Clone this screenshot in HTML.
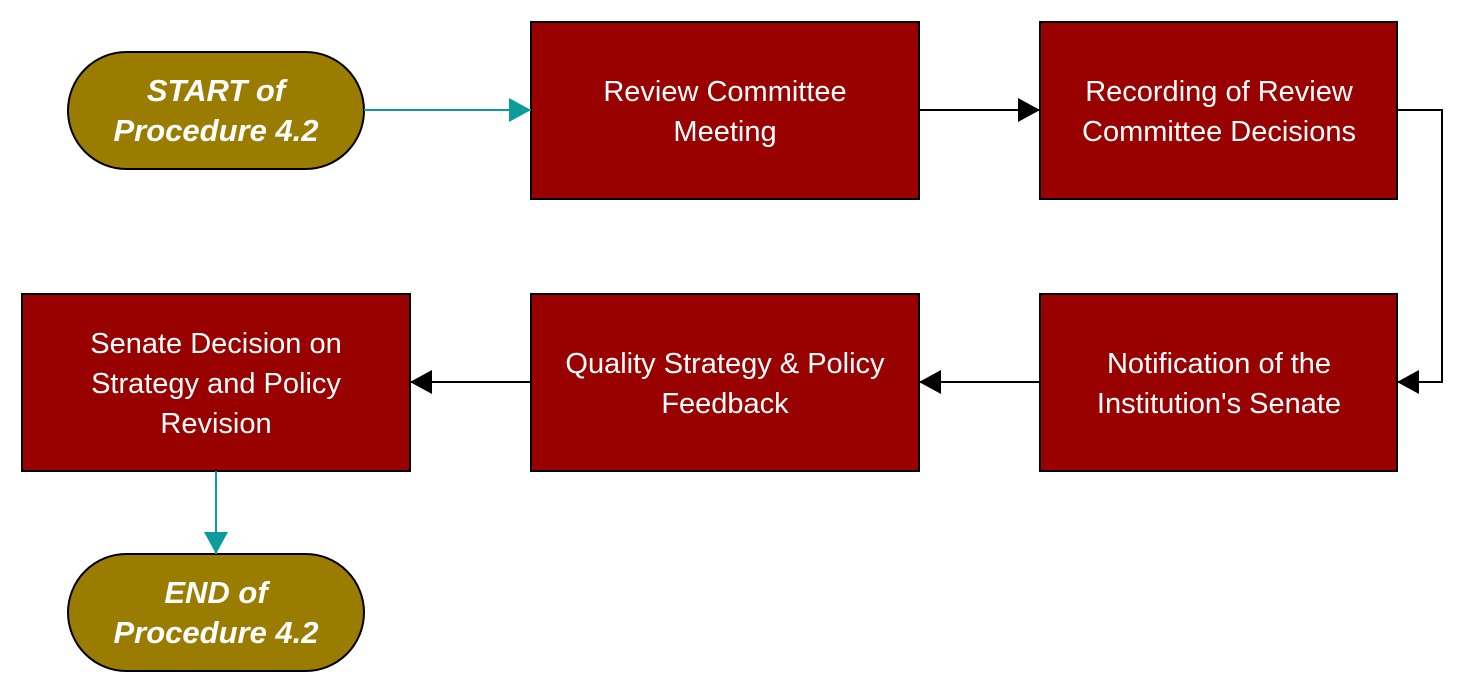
<!DOCTYPE html>
<html><head><meta charset="utf-8"><style>
html,body{margin:0;padding:0;background:#fff;}
svg{display:block;}
text{font-family:"Liberation Sans",sans-serif;fill:#fff;}
</style></head><body>
<svg width="1465" height="695" viewBox="0 0 1465 695" xmlns="http://www.w3.org/2000/svg">
<defs>
<marker id="ab" markerWidth="22" markerHeight="24" refX="22" refY="12" orient="auto" markerUnits="userSpaceOnUse" viewBox="0 0 22 24"><path d="M0,0 L22,12 L0,24 z" fill="#000"/></marker>
<marker id="at" markerWidth="22" markerHeight="24" refX="22" refY="12" orient="auto" markerUnits="userSpaceOnUse" viewBox="0 0 22 24"><path d="M0,0 L22,12 L0,24 z" fill="#0e9b9b"/></marker>
</defs>
<g stroke="#000" stroke-width="2" fill="#990000">
<rect x="531" y="22" width="388" height="177"/>
<rect x="1040" y="22" width="357" height="177"/>
<rect x="1040" y="294" width="357" height="177"/>
<rect x="531" y="294" width="388" height="177"/>
<rect x="22" y="294" width="388" height="177"/>
</g>
<g stroke="#000" stroke-width="2" fill="#9a7c00">
<rect x="68" y="52" width="296" height="117" rx="58.5"/>
<rect x="68" y="554" width="296" height="117" rx="58.5"/>
</g>
<g fill="none" stroke-width="2">
<path d="M364,110 L531,110" stroke="#0e9b9b" marker-end="url(#at)"/>
<path d="M919,110 L1040,110" stroke="#000" marker-end="url(#ab)"/>
<path d="M1397,110 L1442,110 L1442,382 L1397,382" stroke="#000" marker-end="url(#ab)"/>
<path d="M1040,382 L919,382" stroke="#000" marker-end="url(#ab)"/>
<path d="M531,382 L410,382" stroke="#000" marker-end="url(#ab)"/>
<path d="M216,471 L216,554" stroke="#0e9b9b" marker-end="url(#at)"/>
</g>
<g font-size="29" text-anchor="middle">
<text x="725" y="101">Review Committee</text>
<text x="725" y="141">Meeting</text>
<text x="1219" y="101">Recording of Review</text>
<text x="1219" y="141">Committee Decisions</text>
<text x="1219" y="373">Notification of the</text>
<text x="1219" y="413">Institution's Senate</text>
<text x="725" y="373">Quality Strategy &amp; Policy</text>
<text x="725" y="413">Feedback</text>
<text x="216" y="353">Senate Decision on</text>
<text x="216" y="393">Strategy and Policy</text>
<text x="216" y="433">Revision</text>
</g>
<g font-size="31" font-weight="bold" font-style="italic" text-anchor="middle">
<text x="216" y="101">START of</text>
<text x="216" y="141">Procedure 4.2</text>
<text x="216" y="603">END of</text>
<text x="216" y="643">Procedure 4.2</text>
</g>
</svg>
</body></html>
